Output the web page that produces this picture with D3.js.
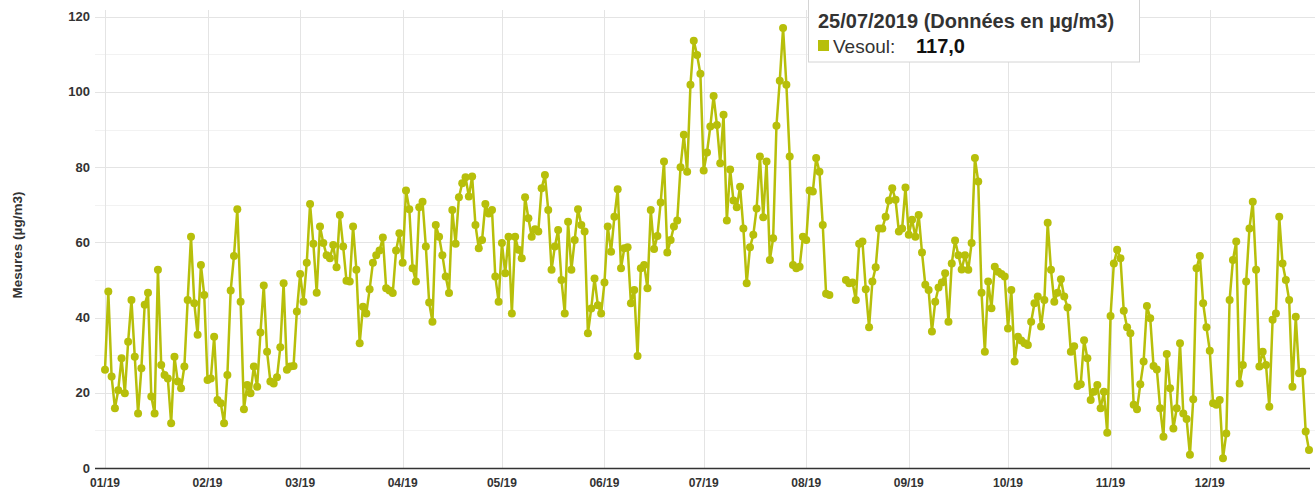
<!DOCTYPE html>
<html>
<head>
<meta charset="utf-8">
<script src="https://cdn.jsdelivr.net/npm/d3@7/dist/d3.min.js"></script>
<style>
  html, body { margin: 0; padding: 0; background: #fff; }
  svg { display: block; font-family: "Liberation Sans", Arial, sans-serif; }
</style>
</head>
<body>
<svg id="chart" width="1315" height="493"></svg>
<script>
// ---- Data (daily values, µg/m3, Vesoul 2019) ----
const jan = [26.1, 46.9, 24.3, 15.9, 20.7, 29.2, 19.9, 33.6, 44.7, 29.6, 14.5, 26.5, 43.4, 46.6, 19.0, 14.5, 52.7, 27.4, 24.7, 23.8, 11.9, 29.6, 23.0, 21.2, 27.0, 44.7, 61.5, 43.8, 35.4, 54.0, 46.0];
const feb = [23.4, 23.8, 34.9, 18.1, 17.2, 11.9, 24.7, 47.2, 56.4, 68.8, 44.2, 15.6, 22.1, 19.9, 27.0, 21.6, 36.0, 48.5, 30.9, 23.0, 22.5, 24.1, 32.1, 49.1, 26.1, 27.0, 27.1, 41.6];
const mar = [51.6, 44.2, 54.6, 70.2, 59.6, 46.6, 64.2, 59.8, 56.6, 55.8, 59.3, 53.4, 67.3, 58.9, 49.8, 49.6, 64.2, 52.7, 33.2, 42.9, 41.1, 47.5, 54.6, 56.6, 57.8, 61.3, 47.8, 47.2, 46.5, 57.8, 62.4];
const apr = [54.6, 73.8, 68.8, 53.1, 49.6, 69.3, 70.8, 58.9, 44.0, 38.9, 64.6, 61.5, 56.6, 50.9, 46.5, 68.6, 59.6, 72.0, 75.7, 77.3, 72.2, 77.5, 64.6, 58.4, 60.6, 70.2, 67.7, 68.6, 50.9, 44.2];
const may = [59.8, 51.8, 61.5, 41.1, 61.5, 58.0, 55.8, 72.0, 66.4, 61.5, 63.5, 62.9, 74.4, 77.9, 68.6, 52.7, 58.9, 63.3, 50.0, 41.1, 65.5, 52.7, 60.6, 68.8, 64.6, 62.9, 35.8, 42.4, 50.4, 43.3, 41.1];
const jun = [49.3, 64.2, 57.5, 66.8, 74.1, 53.1, 58.4, 58.7, 43.8, 47.3, 29.8, 53.1, 54.0, 47.8, 68.6, 58.2, 61.7, 70.6, 81.5, 57.3, 60.6, 64.2, 65.8, 80.0, 88.6, 78.8, 101.9, 113.6, 109.8, 104.8];
const jul = [79.1, 83.9, 90.8, 98.9, 91.2, 81.0, 93.9, 65.8, 79.4, 71.1, 69.3, 74.8, 63.7, 49.1, 58.7, 62.0, 69.0, 82.8, 66.7, 81.5, 55.3, 61.1, 91.0, 103.0, 117.0, 101.9, 82.8, 54.0, 53.1, 53.5, 61.5];
const aug = [60.6, 73.8, 73.5, 82.4, 78.8, 64.6, 46.3, 46.0, null, null, null, null, 50.0, 49.1, 49.3, 44.7, 59.6, 60.2, 47.5, 37.4, 49.6, 53.4, 63.7, 63.7, 66.8, 71.1, 74.4, 71.3, 62.9, 63.7, 74.6];
const sep = [62.0, 66.0, 61.5, 67.3, 57.3, 48.7, 47.3, 36.3, 44.2, 48.0, 49.3, 51.8, 38.9, 54.4, 60.5, 56.6, 52.8, 56.6, 52.7, 59.8, 82.4, 76.2, 46.6, 30.9, 49.6, 42.5, 53.5, 52.2, 51.6, 50.9];
const oct = [37.1, 47.3, 28.3, 34.9, 33.9, 33.2, 32.7, 38.9, 43.8, 45.6, 37.6, 44.7, 65.2, 52.7, 44.2, 46.6, 50.2, 45.6, 42.7, 30.9, 32.4, 21.8, 22.3, 34.0, 29.2, 18.1, 20.3, 22.1, 15.9, 20.3, 9.4];
const nov = [40.4, 54.4, 58.0, 55.8, 41.8, 37.4, 35.8, 16.8, 15.6, 22.3, 28.3, 43.1, 39.8, 27.1, 26.2, 15.9, 8.3, 30.3, 21.2, 10.5, 15.9, 33.2, 14.5, 13.0, 3.5, 18.3, 53.1, 56.4, 43.8, 37.4];
const dec = [31.2, 17.2, 16.8, 18.1, 2.6, 9.2, 44.7, 55.3, 60.2, 22.5, 27.4, 49.6, 63.7, 70.8, 52.7, 27.0, 30.9, 27.4, 16.3, 39.4, 41.1, 66.8, 54.4, 50.0, 44.7, 21.6, 40.2, 25.2, 25.6, 9.7, 4.8];

const monthLabels = ["01/19", "02/19", "03/19", "04/19", "05/19", "06/19", "07/19", "08/19", "09/19", "10/19", "11/19", "12/19"];
const yTicks = [0, 20, 40, 60, 80, 100, 120];
const yMinor = [10, 30, 50, 70, 90, 110];
const yTitle = "Mesures (µg/m3)";
const tipTitle = "25/07/2019 (Données en µg/m3)";
const tipSeries = "Vesoul:";
const tipValue = "117,0";

const months = [jan, feb, mar, apr, may, jun, jul, aug, sep, oct, nov, dec];
const data = [];
months.forEach((arr, m) => arr.forEach((v, i) => data.push({ date: new Date(2019, m, i + 1), v })));

// ---- Layout ----
const color = "#b7bf0a";
const svg = d3.select("#chart");
const x = d3.scaleTime().domain([new Date(2019, 0, 1), new Date(2019, 11, 31)]).range([105, 1309]);
const y = d3.scaleLinear().domain([0, 120]).range([468, 16.7]);

// grid
svg.append("g").selectAll("line.minor").data(yMinor).join("line")
  .attr("x1", 95).attr("x2", 1315)
  .attr("y1", d => Math.round(y(d)) + 0.5).attr("y2", d => Math.round(y(d)) + 0.5)
  .attr("stroke", "#f2f2f2").attr("stroke-width", 1);
svg.append("g").selectAll("line.major").data(yTicks.filter(d => d > 0)).join("line")
  .attr("x1", 95).attr("x2", 1315)
  .attr("y1", d => Math.round(y(d)) + 0.5).attr("y2", d => Math.round(y(d)) + 0.5)
  .attr("stroke", "#e4e4e4").attr("stroke-width", 1);
const monthDates = monthLabels.map((_, i) => new Date(2019, i, 1));
svg.append("g").selectAll("line").data(monthDates).join("line")
  .attr("x1", d => Math.round(x(d)) + 0.5).attr("x2", d => Math.round(x(d)) + 0.5)
  .attr("y1", 10).attr("y2", 468)
  .attr("stroke", "#e4e4e4").attr("stroke-width", 1);

// x axis line
svg.append("line").attr("x1", 95).attr("x2", 1310).attr("y1", 468.5).attr("y2", 468.5)
  .attr("stroke", "#333").attr("stroke-width", 1.5);

// y tick labels
svg.append("g").selectAll("text").data(yTicks).join("text")
  .attr("x", 90).attr("y", d => y(d)).attr("dy", "0.35em")
  .attr("text-anchor", "end").attr("font-size", 13).attr("font-weight", "bold").attr("fill", "#333")
  .text(d => d);

// x tick labels
svg.append("g").selectAll("text").data(monthDates).join("text")
  .attr("x", d => x(d)).attr("y", 487)
  .attr("text-anchor", "middle").attr("font-size", 12).attr("font-weight", "bold").attr("fill", "#333")
  .text((d, i) => monthLabels[i]);

// y title
svg.append("text").attr("transform", "translate(22,245) rotate(-90)")
  .attr("text-anchor", "middle").attr("font-size", 13.5).attr("font-weight", "bold").attr("fill", "#333")
  .text(yTitle);

// line
const line = d3.line().defined(d => d.v != null).x(d => x(d.date)).y(d => y(d.v));
svg.append("path").datum(data).attr("d", line)
  .attr("fill", "none").attr("stroke", color).attr("stroke-width", 2.5).attr("stroke-linejoin", "round");
svg.append("g").selectAll("circle").data(data.filter(d => d.v != null)).join("circle")
  .attr("cx", d => x(d.date)).attr("cy", d => y(d.v)).attr("r", 4)
  .attr("fill", color);

// tooltip
const tip = svg.append("g");
tip.append("rect").attr("x", 808.5).attr("y", -2).attr("width", 331).attr("height", 64)
  .attr("fill", "#fff").attr("stroke", "#d4d4d4").attr("stroke-width", 1);
tip.append("text").attr("x", 818).attr("y", 28).attr("font-size", 20).attr("font-weight", "bold").attr("fill", "#333")
  .text(tipTitle);
tip.append("rect").attr("x", 818).attr("y", 40).attr("width", 11).attr("height", 11).attr("fill", color);
tip.append("text").attr("x", 833).attr("y", 53).attr("font-size", 19).attr("fill", "#333").text(tipSeries);
tip.append("text").attr("x", 916).attr("y", 53).attr("font-size", 20).attr("font-weight", "bold").attr("fill", "#111").text(tipValue);
</script>
</body>
</html>
